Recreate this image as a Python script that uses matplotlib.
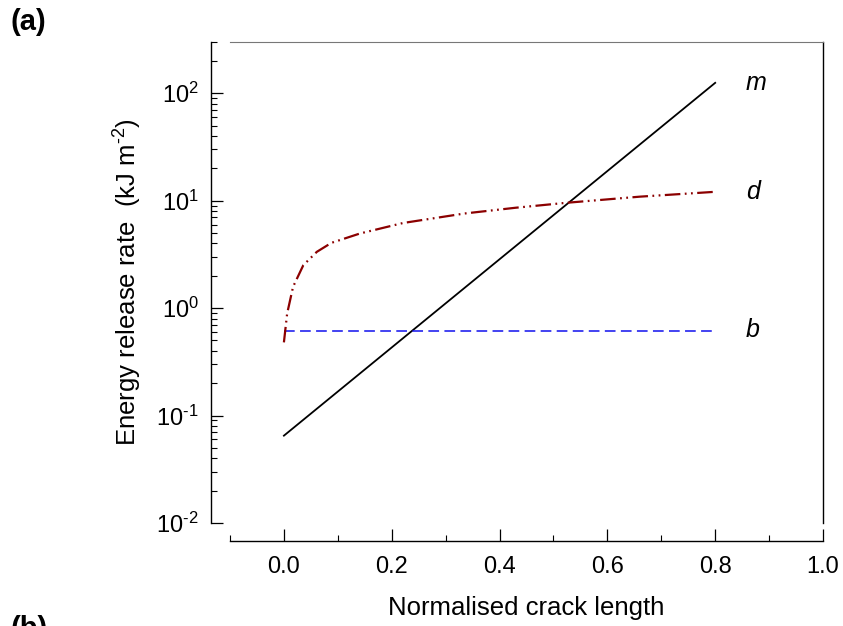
import matplotlib
matplotlib.use("Agg")
import matplotlib.pyplot as plt
from matplotlib.ticker import LogLocator, MultipleLocator, NullFormatter, FuncFormatter
import numpy as np

plt.rcParams['font.family'] = 'Liberation Sans'
plt.rcParams['mathtext.fontset'] = 'custom'
plt.rcParams['mathtext.rm'] = 'Liberation Sans'
plt.rcParams['mathtext.it'] = 'Liberation Sans:italic'
plt.rcParams['mathtext.default'] = 'regular'

# ---- data ----
m_x = [0.0, 0.8]
m_y = [0.065, 125.0]

b_x = [0.0, 0.8]
b_y = [0.61, 0.61]

d_x = [0.0, 0.006, 0.017, 0.036, 0.061, 0.088, 0.141, 0.221, 0.335, 0.43, 0.523, 0.66, 0.8]
d_y = [0.48, 0.89, 1.58, 2.51, 3.34, 4.05, 4.95, 6.2, 7.6, 8.6, 9.55, 10.9, 12.1]

curve_labels = ['m', 'd', 'b']
label_y = [125.0, 12.0, 0.62]


def pow_label(v, pos):
    e = int(round(np.log10(v)))
    return '10$^{%s}$' % (str(e).replace('-', '\u2010'))


fig = plt.figure(figsize=(8.43, 6.26), dpi=100)
ax = fig.add_axes([230 / 843, 103 / 626, 593 / 843, 481 / 626])

ax.plot(m_x, m_y, color='black', lw=1.3)
ax.plot(b_x, b_y, color='#1010ee', lw=1.1, dashes=(7, 3.5))
ax.plot(d_x, d_y, color='#8b0000', lw=1.6, dashes=(7, 2, 0.8, 2, 0.8, 2))

for lab, yy in zip(curve_labels, label_y):
    ax.text(0.857, yy, lab, fontsize=18, style='italic', va='center', ha='left')

ax.set_yscale('log')
ax.set_xlim(-0.1, 1.0)
ax.set_ylim(0.01, 300)

ax.xaxis.set_major_locator(MultipleLocator(0.2))
ax.xaxis.set_minor_locator(MultipleLocator(0.1))
ax.xaxis.set_major_formatter(plt.FormatStrFormatter('%.1f'))
ax.yaxis.set_major_locator(LogLocator(base=10, numticks=10))
ax.yaxis.set_major_formatter(FuncFormatter(pow_label))
ax.yaxis.set_minor_locator(LogLocator(base=10, subs=range(2, 10), numticks=20))
ax.yaxis.set_minor_formatter(NullFormatter())

ax.spines['left'].set_position(('outward', 13.5))
ax.spines['bottom'].set_position(('outward', 13))
ax.spines['top'].set_color('#777777')
ax.spines['right'].set_color('black')
for s in ['left', 'bottom', 'right']:
    ax.spines[s].set_linewidth(1.0)

ax.tick_params(which='both', direction='in', top=False, right=False, labelsize=17)
ax.tick_params(which='major', length=8.5, width=0.9)
ax.tick_params(which='minor', length=4.5, width=0.8)
ax.tick_params(axis='x', pad=11)
ax.tick_params(axis='y', pad=9)

ax.set_xlabel('Normalised crack length', fontsize=18.5, labelpad=13)
ax.set_ylabel('Energy release rate  (kJ m$^{\u20102}$)', fontsize=18.5, labelpad=9)

fig.text(10 / 843, 1 - 8 / 626, '(a)', fontsize=21, fontweight='bold', va='top', ha='left')
# panel (b) label only peeks in at the bottom edge, as in the source
fig.text(10 / 843, 1 - 615 / 626, '(b)', fontsize=21, fontweight='bold', va='top', ha='left')

fig.savefig('out.png', dpi=100)
